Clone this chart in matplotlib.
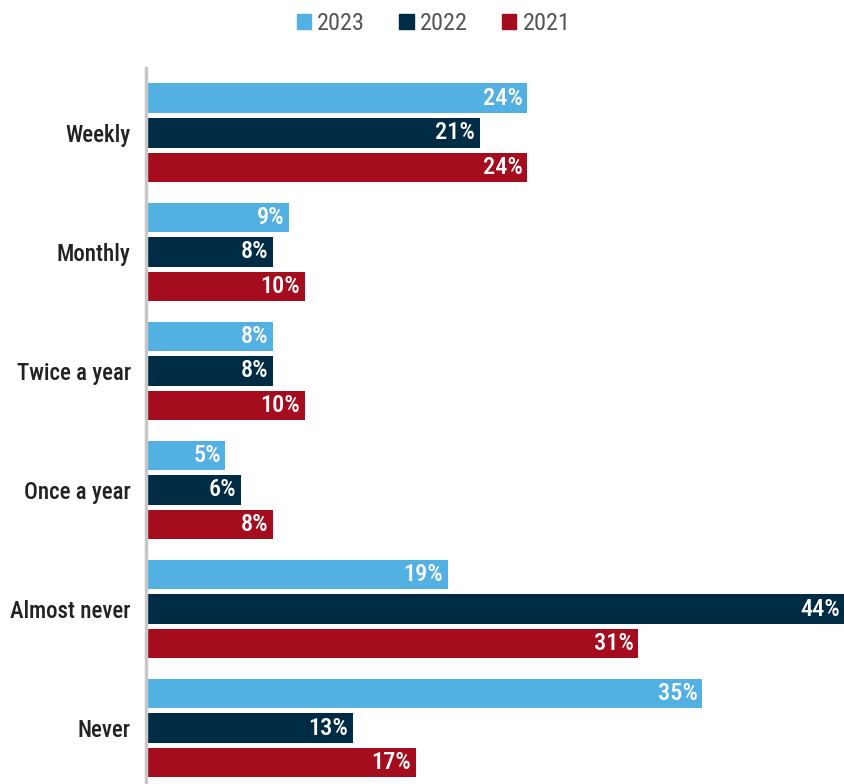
import numpy as np
import matplotlib.pyplot as plt
from matplotlib.patches import Patch

plt.rcParams['font.family'] = ['Roboto Condensed', 'Liberation Sans Narrow', 'Roboto', 'DejaVu Sans']

categories = ['Weekly', 'Monthly', 'Twice a year', 'Once a year', 'Almost never', 'Never']
years = ['2023', '2022', '2021']
vals_2023 = [24, 9, 8, 5, 19, 35]
vals_2022 = [21, 8, 8, 6, 44, 13]
vals_2021 = [24, 10, 10, 8, 31, 17]
colors = ['#53b0e3', '#002b45', '#a50d1f']

fig = plt.figure(figsize=(8.45, 7.84), dpi=100)
ax = fig.add_axes([146 / 845, 0, 1 - 146 / 845, 1 - 68 / 784])

y = np.arange(len(categories))
step = 0.29
height = 0.25
for i, (vals, col) in enumerate(zip([vals_2023, vals_2022, vals_2021], colors)):
    pos = y + (i - 1) * step
    ax.barh(pos, vals, height=height, color=col, label=years[i])
    for p, v in zip(pos, vals):
        ax.text(v - 0.3, p, f'{v}%', ha='right', va='center', color='white',
                fontsize=17.5, fontweight='medium')

ax.set_xlim(0, 44)
ax.set_ylim(5.47, -0.545)
ax.set_yticks(y)
ax.set_yticklabels(categories, fontsize=16.5, fontweight='medium', color='#222222')
ax.tick_params(axis='y', length=0, pad=11)
ax.set_xticks([])
for s in ['top', 'right', 'bottom']:
    ax.spines[s].set_visible(False)
ax.spines['left'].set_color('#c8c8c8')
ax.spines['left'].set_linewidth(2.5)

# legend across the top
handles = [Patch(color=c) for c in colors]
fig.legend(handles, years, loc='center', bbox_to_anchor=(0.513, 0.970), ncol=3,
           frameon=False, fontsize=17.5, handlelength=0.6, handleheight=0.6,
           handletextpad=0.25, columnspacing=1.4, labelcolor='#555555')

fig.savefig('out.png', dpi=100)
